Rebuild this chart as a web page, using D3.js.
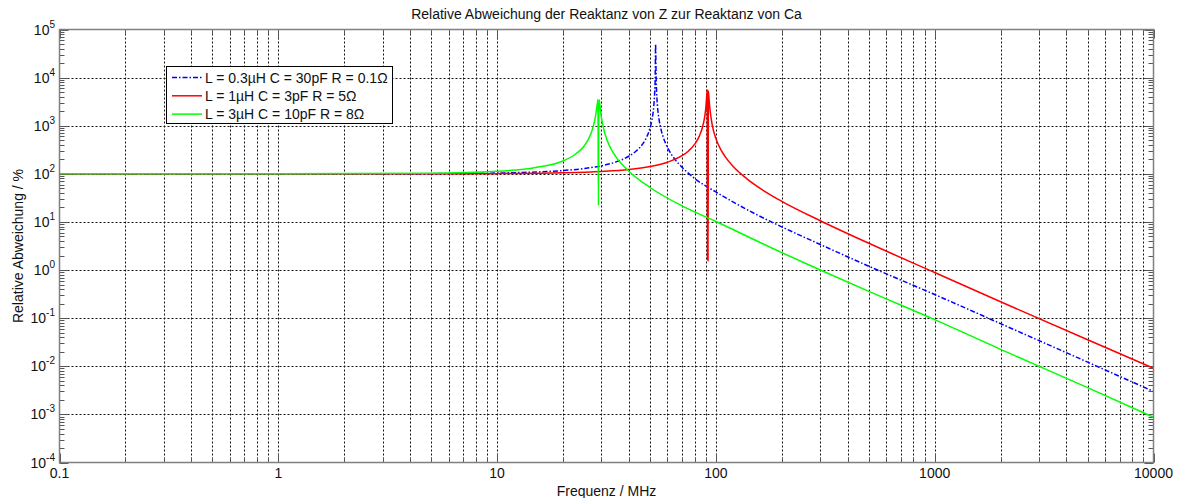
<!DOCTYPE html>
<html>
<head>
<meta charset="utf-8">
<script src="https://cdn.jsdelivr.net/npm/d3@7"></script>
<style>
    body { margin: 0; background: #fff; }
    svg { display: block; font-family: 'Liberation Sans', Arial, sans-serif; }
    .grid line { stroke: #111; stroke-width: 1; stroke-dasharray: 2,2; }
    .tick-mark { stroke: #555; stroke-width: 1; }
</style>
</head>
<body>
<svg id="chart" width="1181" height="498"></svg>
<script>
// Axis ticks and labels
var xMajor = [0.1, 1, 10, 100, 1000, 10000];
var xTickLabels = ['0.1', '1', '10', '100', '1000', '10000'];
var yExponents = [-4, -3, -2, -1, 0, 1, 2, 3, 4, 5];

var titleText = 'Relative Abweichung der Reaktanz von Z zur Reaktanz von Ca';
var xTitle = 'Frequenz / MHz';
var yTitle = 'Relative Abweichung / %';

var legendLabels = [
    'L = 0.3\u00b5H C = 30pF R = 0.1\u03a9',
    'L = 1\u00b5H C = 3pF R = 5\u03a9',
    'L = 3\u00b5H C = 10pF R = 8\u03a9'
];

// Series 1: L = 0.3uH (blue, dash-dot), frequency in MHz, deviation in %
var blueFreq = [0.1, 1, 5, 10, 15, 20, 25, 30, 35, 40, 43, 46, 48, 50, 51, 52, 52.5, 52.8, 53.0,
    53.3, 53.6, 54, 55, 56, 58, 60, 65, 70, 80, 100, 150, 200, 300, 500, 1000, 2000, 5000, 10000];
var blueDev = [100, 100, 101, 104, 109, 117, 129, 147, 177, 232, 292, 403, 552, 895, 1320, 2550, 4850, 10600, 50000,
    10500, 4800, 2770, 1340, 875, 512, 358, 200, 137, 80, 42, 15, 7.9, 3.4, 1.2, 0.31, 0.077, 0.0122, 0.003];

// Series 2: L = 1uH (red)
var redFreq = [0.1, 5, 10, 20, 30, 40, 50, 60, 70, 75, 80, 84, 87, 89, 90, 90.8, 91.3, 91.5, 91.8, 92.1,
    92.4, 93, 94, 96, 100, 105, 110, 120, 140, 170, 200, 300, 500, 1000, 2000, 5000, 10000];
var redDev = [100, 100, 101, 105, 112, 123, 142, 174, 238, 299, 413, 608, 963, 1610, 2440, 4200, 5500, 1.6, 5600, 1.5,
    5200, 3680, 2150, 1095, 543, 327, 231, 142, 76, 41.3, 26.8, 10.6, 3.6, 0.89, 0.22, 0.0355, 0.0091];

// Series 3: L = 3uH (green)
var greenFreq = [0.1, 1, 5, 10, 15, 20, 23, 25, 26, 27, 27.8, 28.2, 28.5, 28.75, 28.9, 29.05, 29.15, 29.3,
    29.6, 30, 31, 33, 35, 40, 50, 70, 100, 200, 300, 500, 1000, 2000, 5000, 10000];
var greenDev = [100, 100, 103, 113, 136, 185, 265, 380, 500, 730, 1170, 1615, 2290, 3000, 3500, 22, 3450, 3400,
    2320, 1450, 720, 345, 222, 113, 52, 21.5, 10.2, 2.3, 1.0, 0.36, 0.093, 0.0225, 0.0036, 0.00087];

var seriesColors = ['#0000ff', '#ff0000', '#00ff00'];
var seriesDash = ['5,2,1.5,2', null, null];

var margin = { left: 59.5, right: 1153.5, top: 29.5, bottom: 462.5 };

var svg = d3.select('#chart');

var x = d3.scaleLog().domain([0.1, 10000]).range([margin.left, margin.right]);
var y = d3.scaleLog().domain([1e-4, 1e5]).range([margin.bottom, margin.top]);

// Minor tick values: 1..9 times each decade
var xAll = [];
for (var d = 0; d < xMajor.length - 1; d++) {
    for (var m = 1; m < 10; m++) {
        xAll.push(xMajor[d] * m);
    }
}
xAll.push(10000);

var yMinor = [];
for (var e = 0; e < yExponents.length - 1; e++) {
    for (var k = 2; k < 10; k++) {
        yMinor.push(k * Math.pow(10, yExponents[e]));
    }
}

// Grid lines (vertical at every x tick, horizontal only at decades)
var grid = svg.append('g').attr('class', 'grid');

grid.selectAll('.vx')
    .data(xAll.filter(function (v) { return v > 0.1 && v < 10000; }))
    .enter().append('line')
    .attr('x1', function (v) { return Math.round(x(v)) + 0.5; })
    .attr('x2', function (v) { return Math.round(x(v)) + 0.5; })
    .attr('y1', margin.top)
    .attr('y2', margin.bottom);

grid.selectAll('.hy')
    .data(yExponents.slice(1, -1))
    .enter().append('line')
    .attr('x1', margin.left)
    .attr('x2', margin.right)
    .attr('y1', function (v) { return Math.round(y(Math.pow(10, v))) + 0.5; })
    .attr('y2', function (v) { return Math.round(y(Math.pow(10, v))) + 0.5; });

// Tick marks, inward on all four sides
var ticks = svg.append('g');

xAll.forEach(function (v) {
    var px = Math.round(x(v)) + 0.5;
    var len = xMajor.indexOf(v) >= 0 ? 9 : 5;
    ticks.append('line').attr('class', 'tick-mark')
        .attr('x1', px).attr('x2', px)
        .attr('y1', margin.bottom).attr('y2', margin.bottom - len);
    ticks.append('line').attr('class', 'tick-mark')
        .attr('x1', px).attr('x2', px)
        .attr('y1', margin.top).attr('y2', margin.top + len);
});

yExponents.forEach(function (v) {
    var py = Math.round(y(Math.pow(10, v))) + 0.5;
    ticks.append('line').attr('class', 'tick-mark')
        .attr('x1', margin.left).attr('x2', margin.left + 9)
        .attr('y1', py).attr('y2', py);
    ticks.append('line').attr('class', 'tick-mark')
        .attr('x1', margin.right).attr('x2', margin.right - 9)
        .attr('y1', py).attr('y2', py);
});

yMinor.forEach(function (v) {
    var py = Math.round(y(v)) + 0.5;
    ticks.append('line').attr('class', 'tick-mark')
        .attr('x1', margin.left).attr('x2', margin.left + 5)
        .attr('y1', py).attr('y2', py);
    ticks.append('line').attr('class', 'tick-mark')
        .attr('x1', margin.right).attr('x2', margin.right - 5)
        .attr('y1', py).attr('y2', py);
});

// Clip the curves to the plot box
svg.append('clipPath').attr('id', 'plot-clip')
    .append('rect')
    .attr('x', margin.left)
    .attr('y', margin.top)
    .attr('width', margin.right - margin.left)
    .attr('height', margin.bottom - margin.top);

var line = d3.line()
    .x(function (p) { return x(p[0]); })
    .y(function (p) { return y(p[1]); })
    .curve(d3.curveMonotoneX);

var series = [
    d3.zip(blueFreq, blueDev),
    d3.zip(redFreq, redDev),
    d3.zip(greenFreq, greenDev)
];

svg.append('g')
    .attr('clip-path', 'url(#plot-clip)')
    .selectAll('path')
    .data(series)
    .enter().append('path')
    .attr('d', line)
    .attr('fill', 'none')
    .attr('stroke', function (s, i) { return seriesColors[i]; })
    .attr('stroke-width', 1.5)
    .attr('stroke-dasharray', function (s, i) { return seriesDash[i]; });

// Axis box
svg.append('rect')
    .attr('x', margin.left)
    .attr('y', margin.top)
    .attr('width', margin.right - margin.left)
    .attr('height', margin.bottom - margin.top)
    .attr('fill', 'none')
    .attr('stroke', '#808080')
    .attr('stroke-width', 1.5);

// Tick labels
svg.append('g').selectAll('text')
    .data(xMajor)
    .enter().append('text')
    .attr('x', function (v) { return x(v); })
    .attr('y', 478)
    .attr('text-anchor', 'middle')
    .attr('font-size', 14)
    .attr('fill', '#111')
    .text(function (v, i) { return xTickLabels[i]; });

var yLabels = svg.append('g').selectAll('text')
    .data(yExponents)
    .enter().append('text')
    .attr('x', 55)
    .attr('y', function (v) { return y(Math.pow(10, v)) + 5; })
    .attr('text-anchor', 'end')
    .attr('font-size', 14)
    .attr('fill', '#111');

yLabels.append('tspan').text('10');
yLabels.append('tspan')
    .attr('dy', -7)
    .attr('font-size', 10)
    .text(function (v) { return v < 0 ? '-' + Math.abs(v) : String(v); });

// Titles
svg.append('text')
    .attr('x', (margin.left + margin.right) / 2)
    .attr('y', 19)
    .attr('text-anchor', 'middle')
    .attr('font-size', 14)
    .attr('fill', '#111')
    .text(titleText);

svg.append('text')
    .attr('x', (margin.left + margin.right) / 2)
    .attr('y', 496)
    .attr('text-anchor', 'middle')
    .attr('font-size', 14)
    .attr('fill', '#111')
    .text(xTitle);

svg.append('text')
    .attr('transform', 'translate(23,' + ((margin.top + margin.bottom) / 2) + ') rotate(-90)')
    .attr('text-anchor', 'middle')
    .attr('font-size', 14)
    .attr('fill', '#111')
    .text(yTitle);

// Legend
var legend = svg.append('g').attr('transform', 'translate(166,66)');

legend.append('rect')
    .attr('x', 0.5).attr('y', 0.5)
    .attr('width', 226).attr('height', 57)
    .attr('fill', '#fff')
    .attr('stroke', '#000')
    .attr('stroke-width', 1);

legendLabels.forEach(function (label, i) {
    var ly = 11.5 + i * 18.3;
    legend.append('line')
        .attr('x1', 6).attr('x2', 36)
        .attr('y1', ly).attr('y2', ly)
        .attr('stroke', seriesColors[i])
        .attr('stroke-width', 1.5)
        .attr('stroke-dasharray', seriesDash[i]);
    legend.append('text')
        .attr('x', 39)
        .attr('y', ly + 5)
        .attr('font-size', 14)
        .attr('fill', '#111')
        .text(label);
});
</script>
</body>
</html>
